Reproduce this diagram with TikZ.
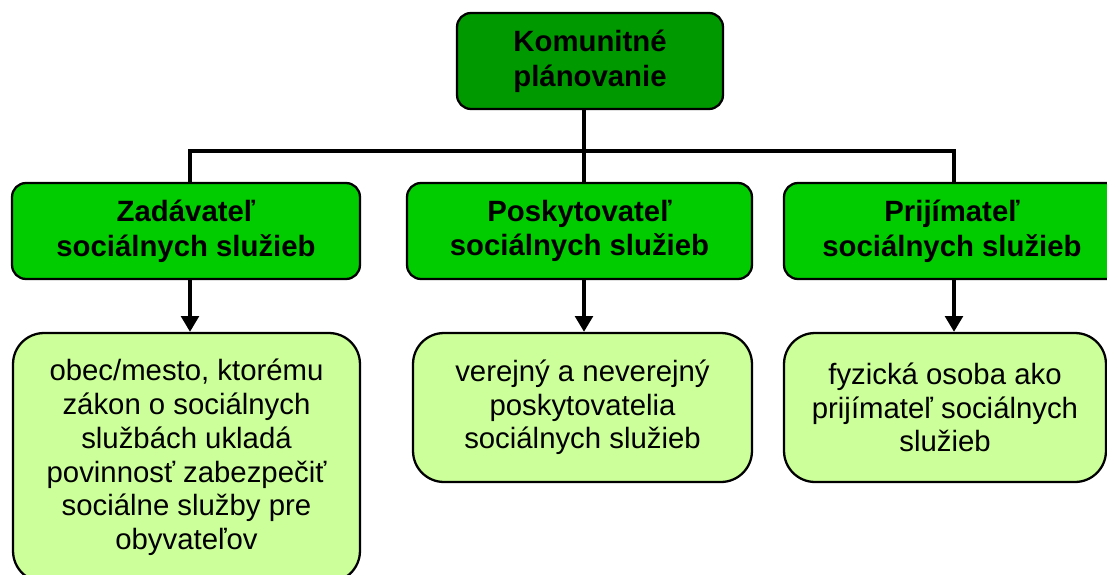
\documentclass[tikz,border=0pt]{standalone}
\usepackage{fontspec}
\setmainfont{Liberation Sans}
\usetikzlibrary{arrows.meta,positioning}
\definecolor{darkgreen}{HTML}{009900}
\definecolor{midgreen}{HTML}{00CC00}
\definecolor{lightgreen}{HTML}{CCFF99}
\tikzset{
  box/.style={draw=black, line width=1.3pt, align=center, inner sep=0pt},
  topbox/.style={box, fill=darkgreen, rounded corners=0.28cm,
    font=\fontsize{16.7}{19.8}\selectfont\bfseries},
  rolebox/.style={box, fill=midgreen, rounded corners=0.28cm,
    minimum height=1.92cm, font=\fontsize{16.7}{19.8}\selectfont\bfseries},
  infobox/.style={box, fill=lightgreen, rounded corners=0.62cm,
    font=\fontsize{16.7}{19.2}\selectfont},
  link/.style={line width=2.1pt},
  arrowlink/.style={link, -{Triangle[width=10pt,length=9pt]}}
}
\begin{document}
\begin{tikzpicture}[x=0.02cm, y=-0.02cm]
    \useasboundingbox (0,0) rectangle (1107,575);
    \clip (0,0) rectangle (1107,575);

    % top
    \node[topbox, minimum width=5.32cm, minimum height=1.92cm] (plan) at (590,61)
        {Komunitné\\plánovanie};

    % roles
    \node[rolebox, minimum width=6.96cm] (zadav) at (186,231)
        {Zadávateľ\\sociálnych služieb};
    \node[rolebox, minimum width=6.90cm] (poskyt) at (579.5,231)
        {Poskytovateľ\\sociálnych služieb};
    \node[rolebox, minimum width=6.72cm] (prijim) at (952,231)
        {Prijímateľ\\sociálnych služieb};

    % descriptions
    \node[infobox, minimum width=6.94cm, minimum height=4.98cm] (obec) at (186.5,457.5)
        {obec/mesto, ktorému\\zákon o sociálnych\\službách ukladá\\povinnosť zabezpečiť\\sociálne služby pre\\obyvateľov};
    \node[infobox, minimum width=6.78cm, minimum height=2.98cm] (verej) at (582.5,407.5)
        {verejný a neverejný\\poskytovatelia\\sociálnych služieb};
    \node[infobox, minimum width=6.44cm, minimum height=2.98cm] (fyzos) at (945,407.5)
        {fyzická osoba ako\\prijímateľ sociálnych\\služieb};

    % connectors
    \coordinate (hub) at (584,151);
    \coordinate (lend) at (190,151);
    \coordinate (rend) at (954,151);
    \draw[link] (hub |- plan.south) -- (hub |- poskyt.north);
    \draw[link] (lend |- zadav.north) -- (lend) -- (rend) -- (rend |- prijim.north);

    \draw[arrowlink] (lend |- zadav.south) -- (lend |- obec.north);
    \draw[arrowlink] (hub |- poskyt.south) -- (hub |- verej.north);
    \draw[arrowlink] (rend |- prijim.south) -- (rend |- fyzos.north);
\end{tikzpicture}
\end{document}
